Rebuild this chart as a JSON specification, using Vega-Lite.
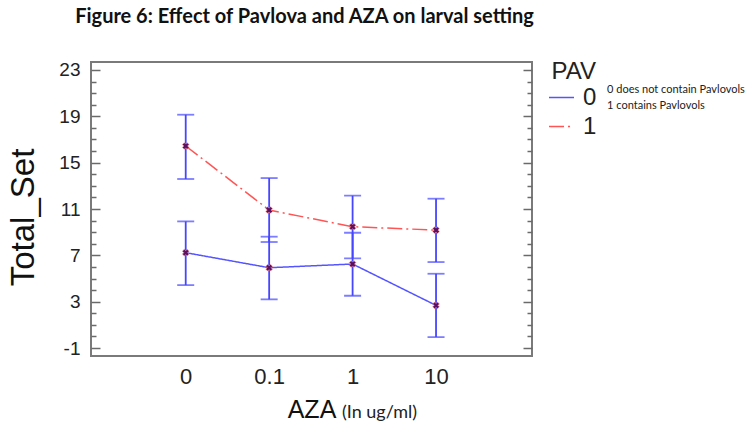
{
  "$schema": "https://vega.github.io/schema/vega-lite/v6.json",
  "autosize": "none",
  "padding": {"left": 91, "top": 62, "right": 214, "bottom": 77},
  "width": 441,
  "height": 294,
  "background": "white",
  "title": {
    "text": "Figure 6: Effect of Pavlova and AZA on larval setting",
    "font": "Lato",
    "fontSize": 20,
    "fontWeight": "bold",
    "color": "#111",
    "anchor": "middle",
    "frame": "group",
    "baseline": "alphabetic",
    "offset": 17,
    "dx": -7
  },
  "config": {
    "view": {"stroke": "#7a7a7a", "strokeWidth": 2},
    "legend": {"padding": 0}
  },
  "data": {
    "values": [
      {"aza": "0", "idx": 1, "pav": "0", "mean": 7.23, "lo": 4.43, "hi": 9.93},
      {"aza": "0.1", "idx": 2, "pav": "0", "mean": 5.93, "lo": 3.2, "hi": 8.61},
      {"aza": "1", "idx": 3, "pav": "0", "mean": 6.25, "lo": 3.51, "hi": 8.95},
      {"aza": "10", "idx": 4, "pav": "0", "mean": 2.68, "lo": -0.06, "hi": 5.41},
      {"aza": "0", "idx": 1, "pav": "1", "mean": 16.44, "lo": 13.59, "hi": 19.14},
      {"aza": "0.1", "idx": 2, "pav": "1", "mean": 10.91, "lo": 8.15, "hi": 13.67},
      {"aza": "1", "idx": 3, "pav": "1", "mean": 9.47, "lo": 6.74, "hi": 12.15},
      {"aza": "10", "idx": 4, "pav": "1", "mean": 9.18, "lo": 6.42, "hi": 11.89}
    ]
  },
  "resolve": {"axis": {"y": "independent"}},
  "layer": [
    {
      "mark": {"type": "line", "strokeWidth": 1.5},
      "encoding": {
        "x": {
          "field": "idx", "type": "quantitative",
          "scale": {"domain": [-0.135, 5.15], "nice": false, "zero": false},
          "axis": {
            "values": [1, 2, 3, 4],
            "labelExpr": "['0','0.1','1','10'][datum.value-1]",
            "ticks": false, "domain": false, "grid": false,
            "labelFont": "Liberation Sans Narrow, Liberation Sans",
            "labelFontSize": 22, "labelColor": "#222", "labelPadding": 10,
            "labelFlush": false,
            "title": "AZA",
            "titleFont": "Liberation Sans", "titleFontSize": 25,
            "titleFontWeight": "normal", "titleColor": "#111", "titlePadding": 10
          }
        },
        "y": {
          "field": "mean", "type": "quantitative",
          "scale": {"domain": [-1.69, 23.69], "nice": false, "zero": false},
          "axis": {
            "orient": "left",
            "values": [-1,0,1,2,3,4,5,6,7,8,9,10,11,12,13,14,15,16,17,18,19,20,21,22,23],
            "labelExpr": "(datum.value+1)%4===0 ? '' + datum.value : ''",
            "labelOverlap": false,
            "tickSize": {"condition": {"test": "(datum.value+1)%4===0", "value": -9}, "value": -5},
            "tickColor": "#6a6a6a", "tickWidth": 1.5,
            "domain": false, "grid": false,
            "labelFont": "Liberation Sans Narrow, Liberation Sans",
            "labelFontSize": 19, "labelColor": "#222", "labelPadding": 20,
            "title": "Total_Set",
            "titleFont": "Liberation Sans", "titleFontSize": 33,
            "titleFontWeight": "normal", "titleColor": "#111", "titlePadding": 18,
            "titleY": 155
          }
        },
        "color": {
          "field": "pav", "type": "nominal",
          "scale": {"domain": ["0", "1"], "range": ["#5555ff", "#ff5555"]},
          "legend": {
            "title": "PAV", "orient": "none", "legendX": 457, "legendY": -2,
            "symbolType": "stroke", "symbolSize": 625, "symbolStrokeWidth": 1.5,
            "labelFont": "Liberation Sans Narrow, Liberation Sans", "labelFontSize": 24,
            "labelColor": "#222", "labelOffset": 8,
            "titleFont": "Liberation Sans Narrow, Liberation Sans", "titleFontSize": 24,
            "titleFontWeight": "normal", "titleColor": "#222", "titleAnchor": "end",
            "titlePadding": 0, "rowPadding": 3
          }
        },
        "strokeDash": {
          "field": "pav", "type": "nominal",
          "scale": {"domain": ["0", "1"], "range": [[1, 0], [15, 4, 2, 4]]},
          "legend": {
            "title": "PAV", "orient": "none", "legendX": 457, "legendY": -2,
            "symbolType": "stroke", "symbolSize": 625, "symbolStrokeWidth": 1.5,
            "labelFont": "Liberation Sans Narrow, Liberation Sans", "labelFontSize": 24,
            "labelColor": "#222", "labelOffset": 8,
            "titleFont": "Liberation Sans Narrow, Liberation Sans", "titleFontSize": 24,
            "titleFontWeight": "normal", "titleColor": "#222", "titleAnchor": "end",
            "titlePadding": 0, "rowPadding": 3
          }
        }
      }
    },
    {
      "mark": {"type": "rule", "color": "#4646ff", "strokeWidth": 1.8},
      "encoding": {
        "x": {"field": "idx", "type": "quantitative"},
        "y": {
          "field": "lo", "type": "quantitative",
          "axis": {
            "orient": "right",
            "values": [-1,0,1,2,3,4,5,6,7,8,9,10,11,12,13,14,15,16,17,18,19,20,21,22,23],
            "labels": false,
            "tickSize": {"condition": {"test": "(datum.value+1)%4===0", "value": -9}, "value": -5},
            "tickColor": "#6a6a6a", "tickWidth": 1.5,
            "domain": false, "grid": false, "title": null
          }
        },
        "y2": {"field": "hi"}
      }
    },
    {
      "mark": {"type": "tick", "orient": "horizontal", "color": "#4646ff", "size": 17, "thickness": 1.8},
      "encoding": {
        "x": {"field": "idx", "type": "quantitative"},
        "y": {"field": "lo", "type": "quantitative", "axis": null}
      }
    },
    {
      "mark": {"type": "tick", "orient": "horizontal", "color": "#4646ff", "size": 17, "thickness": 1.8},
      "encoding": {
        "x": {"field": "idx", "type": "quantitative"},
        "y": {"field": "hi", "type": "quantitative", "axis": null}
      }
    },
    {
      "mark": {"type": "point", "shape": "cross", "angle": 45, "filled": true, "fill": "#5a1060", "stroke": "#ff8a8a", "strokeWidth": 0.6, "size": 45, "opacity": 1},
      "encoding": {
        "x": {"field": "idx", "type": "quantitative"},
        "y": {"field": "mean", "type": "quantitative", "axis": null}
      }
    },
    {
      "data": {"values": [{"note": "(In ug/ml)"}]},
      "mark": {"type": "text", "font": "Lato", "fontSize": 18, "color": "#222", "align": "left", "baseline": "alphabetic"},
      "encoding": {
        "x": {"datum": 2.872, "type": "quantitative"},
        "y": {"datum": -7.05, "type": "quantitative", "axis": null},
        "text": {"field": "note"}
      }
    },
    {
      "data": {"values": [{"note": ["0 does not contain Pavlovols", "1 contains Pavlovols"]}]},
      "mark": {"type": "text", "font": "Lato", "fontSize": 11, "color": "#222", "align": "left", "baseline": "top", "lineHeight": 16},
      "encoding": {
        "x": {"datum": 6.05, "type": "quantitative"},
        "y": {"datum": 21.75, "type": "quantitative", "axis": null},
        "text": {"field": "note"}
      }
    }
  ]
}
